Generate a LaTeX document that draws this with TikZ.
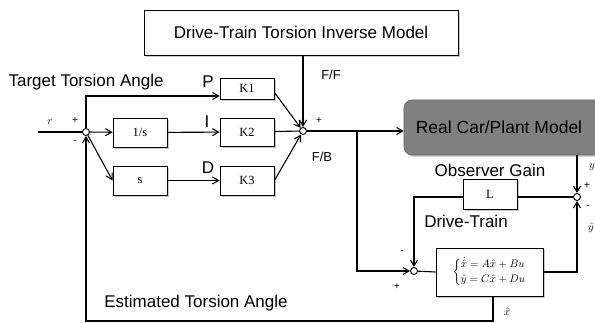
\documentclass[tikz,border=0pt]{standalone}
\usepackage{amsmath}
\usepackage{fontspec}
\setmainfont{Liberation Sans}
\newfontfamily\serifK{Liberation Serif}
\usetikzlibrary{arrows.meta,shadows,calc}
\begin{document}
\begin{tikzpicture}[x=1pt,y=-1pt,
  line width=1.1pt,
  arr/.style={-{Straight Barb[length=6pt,width=7pt,line width=1.1pt]}},
  blk/.style={draw=black,line width=0.9pt,fill=white,minimum width=54pt,inner sep=0pt,
     drop shadow={shadow xshift=2pt,shadow yshift=-2pt,fill=black!35,opacity=0.6},font=\serifK\fontsize{12.5}{14}\selectfont},
  sumj/.style={circle,draw=black,line width=0.9pt,fill=white,minimum size=7pt,inner sep=0pt},
  lbl/.style={font=\fontsize{17}{19}\selectfont,inner sep=0pt},
  sml/.style={font=\fontsize{13}{14}\selectfont,inner sep=0pt},
  mth/.style={font=\fontsize{11}{12}\selectfont,inner sep=0pt},
  pm/.style={font=\fontsize{10}{11}\selectfont,inner sep=0pt}]
\clip (0,0) rectangle (595,323);
\fill[white] (0,0) rectangle (595,323);

% blocks
\node[blk,minimum width=314pt,minimum height=45pt,font=\fontsize{17}{19}\selectfont] (inv) at (301,32.5) {Drive-Train Torsion Inverse Model};
\node[blk,minimum height=21pt] (K1) at (247,88.5) {K1};
\node[blk,minimum height=28pt] (K2) at (247,132) {K2};
\node[blk,minimum height=29pt] (K3) at (247,180.5) {K3};
\node[blk,minimum height=29pt] (integ) at (140,132.5) {1/s};
\node[blk,minimum height=29pt] (deriv) at (140,180.5) {s};
\node[blk,minimum height=30pt] (L) at (490,194) {L};
\node[blk,minimum width=107pt,minimum height=48pt,font=\fontsize{11}{13}\selectfont] (obs) at (489.5,272)
  {$\left\{\begin{array}{@{}l@{}}\dot{\hat{x}} = A\hat{x} + Bu\\[2pt] \hat{y} = C\hat{x} + Du\end{array}\right.$};
\node[draw=black!60,line width=0.6pt,fill=black!50,rounded corners=8pt,minimum width=200pt,minimum height=55pt,
      drop shadow={shadow xshift=2pt,shadow yshift=-2pt,fill=black!30,opacity=0.6},
      font=\fontsize{17.5}{19}\selectfont,text=black] (plant) at (504,127.5) {\hspace*{-10pt}Real Car/Plant Model};

% summing junctions
\node[sumj] (s1) at (86,132) {};
\node[sumj] (s2) at (303,131) {};
\node[sumj] (s3) at (577,197) {};
\node[sumj] (s4) at (414,271) {};

% helper coordinates
\coordinate (rin) at (38,132);
\coordinate (pY) at (0,96);
\coordinate (br) at (357,131);
\coordinate (obsout) at (493,296);
\coordinate (bl) at (86,321);
\coordinate (bo) at (493,321);
\coordinate (lcorner) at (415,197);

% connectors
\draw (rin) -- (s1);
\draw[arr] (s1) |- (K1.west |- pY);
\draw[arr] (s1) -- (integ);
\draw[arr] (s1) -- (deriv.west);
\draw[arr] (integ) -- (K2);
\draw[arr] (deriv) -- (K3);
\draw[arr] ($(K1.east)+(0,4)$) -- (s2);
\draw (K2) -- (s2);
\draw[arr] (K3.east) -- (s2);
\draw[arr] (inv.south -| s2) -- (s2);
\draw[arr] (s2) -- (s2 -| plant.west);
\draw[arr] (br) |- (s4);
\draw[arr] (plant.south -| s3) -- (s3);
\draw (s3) -- (s3 -| L.east);
\draw[arr] (L.west |- lcorner) -| (s4);
\draw (s4) -- (obs.west);
\draw[arr] (obs.east) -| (s3);
\draw[arr] (obsout) -- (bo) -- (bl) -- (s1);

% labels
\node[lbl,anchor=west] (tta) at (8,82) {Target Torsion Angle};
\node[lbl] (lp) at (208,82) {P};
\node[lbl] (li) at (207,122) {I};
\node[lbl] (ld) at (208,168) {D};
\node[mth] (lr) at (50,122) {$r$};
\node[pm] (p1) at (75,121) {+};
\node[pm] (m1) at (75,142) {-};
\node[sml] (lff) at (331,75) {F/F};
\node[pm] (p2) at (319,121) {+};
\node[sml] (lfb) at (322,157) {F/B};
\node[lbl] (log) at (490,170) {Observer Gain};
\node[lbl] (ldt) at (466,221) {Drive-Train};
\node[mth] (ly) at (592,167) {$y$};
\node[pm] (p3) at (587,186) {+};
\node[pm] (m3) at (588,207) {-};
\node[mth] (lyh) at (591,228) {$\hat{y}$};
\node[pm] (m4) at (402,252) {-};
\node[pm] (p4) at (397,287) {+};
\node[mth] (lxh) at (507,312) {$\hat{x}$};
\node[lbl] (eta) at (196,303) {Estimated Torsion Angle};
\end{tikzpicture}
\end{document}
